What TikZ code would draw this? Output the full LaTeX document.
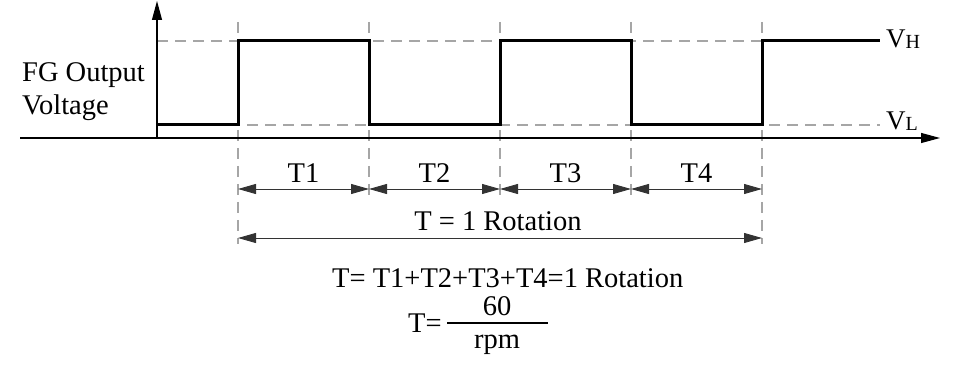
\documentclass[tikz,border=0pt]{standalone}
\usepackage{fontspec}
\setmainfont{Liberation Serif}
\usetikzlibrary{arrows.meta}
\begin{document}
\begin{tikzpicture}[x=1pt,y=-1pt,
  txt/.style={font=\fontsize{28.5}{33}\selectfont, inner sep=0pt, anchor=base},
  guide/.style={draw=black!35, dash pattern=on 11pt off 7pt, line width=1.1pt},
  axis/.style={line width=1.1pt, -{Triangle[length=19pt,width=10pt]}},
  sig/.style={line width=3pt, line join=miter},
  dim/.style={line width=0.8pt, draw=black!80, {Triangle[length=18pt,width=10pt]}-{Triangle[length=18pt,width=10pt]}}]
\useasboundingbox (0,0) rectangle (969,371);
% coordinates
\coordinate (O) at (157,138);
\coordinate (ytop) at (157,1);
\coordinate (xl) at (20,138);
\coordinate (xr) at (940,138);
\foreach \n/\x/\b in {a/238/244,b/369/198,c/500/198,d/631/198,e/762/244}{
  \coordinate (\n top) at (\x,22);
  \coordinate (\n bot) at (\x,\b);
  \coordinate (\n d) at (\x,189);
  \coordinate (\n D) at (\x,238);
}
\coordinate (hL) at (157,41);
\coordinate (hR) at (880,41);
\coordinate (lL) at (157,125);
\coordinate (lR) at (880,125);
% guides
\draw[guide] (hL) -- (hR);
\draw[guide] (lL) -- (lR);
\foreach \n in {a,b,c,d,e}{\draw[guide] (\n top) -- (\n bot);}
% axes
\draw[axis] (O) -- (ytop);
\draw[axis] (xl) -- (xr);
% signal
\draw[sig] (lL) -| (238,41) -| (369,125) -| (500,41) -| (631,125) -| (762,41) -- (hR);
% labels
\node[txt, anchor=base west] (fg1) at (22,82) {FG Output};
\node[txt, anchor=base west] (fg2) at (22,115) {Voltage};
\node[inner sep=0pt, anchor=base west] (vh) at (886,48) {\fontsize{27}{27}\selectfont V\fontsize{20}{20}\selectfont\raisebox{-1pt}{H}};
\node[inner sep=0pt, anchor=base west] (vl) at (886,130) {\fontsize{27}{27}\selectfont V\fontsize{20}{20}\selectfont\raisebox{-1pt}{L}};
% dimensions
\draw[dim] (ad) -- (bd);
\draw[dim] (bd) -- (cd);
\draw[dim] (cd) -- (dd);
\draw[dim] (dd) -- (ed);
\node[txt] (t1) at (303.5,183) {T1};
\node[txt] (t2) at (434.5,183) {T2};
\node[txt] (t3) at (565.5,183) {T3};
\node[txt] (t4) at (696.5,183) {T4};
\draw[dim] (aD) -- (eD);
\node[txt] (trot) at (498,231) {T = 1 Rotation};
% formulas
\node[txt, anchor=base west] (f1) at (332,288) {T= T1+T2+T3+T4=1 Rotation};
\node[txt, anchor=base west] (f2) at (408,332) {T=};
\coordinate (barL) at (447,323);
\coordinate (barR) at (548,323);
\draw[line width=1.8pt] (barL) -- (barR);
\node[txt] (num) at (497,316) {60};
\node[txt] (den) at (497,348) {rpm};
\end{tikzpicture}
\end{document}
